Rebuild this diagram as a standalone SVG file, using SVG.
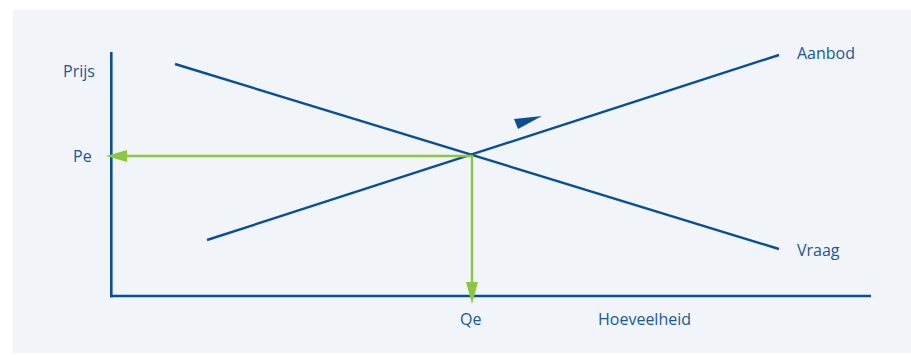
<svg xmlns="http://www.w3.org/2000/svg" width="911" height="355" viewBox="0 0 911 355">
  <defs>
    <style>
      .axis { stroke: #0a4f94; stroke-width: 2.6; fill: none; }
      .curve { stroke: #0a4f94; stroke-width: 2.4; fill: none; stroke-linecap: butt; }
      .guide { stroke: #8dc63f; stroke-width: 2.4; fill: none; }
      .head { fill: #8dc63f; }
      .lbl { font-family: "Open Sans", "Liberation Sans", sans-serif; font-size: 16px; fill: #1b5697; }
    </style>
  </defs>
  <rect width="911" height="355" fill="#ffffff"/>
  <rect x="13" y="10" width="898" height="343" fill="#f1f5f9"/>

  <!-- axes -->
  <g id="axes">
    <line class="axis" x1="111.3" y1="52" x2="111.3" y2="297.3"/>
    <line class="axis" x1="110" y1="296" x2="871" y2="296"/>
  </g>

  <!-- supply and demand curves -->
  <g id="connectors">
    <line class="curve" x1="175" y1="64" x2="779" y2="249"/>
    <line class="curve" x1="207" y1="240" x2="779" y2="55"/>
    <polygon fill="#0a4f94" points="514,119 542,116 518,129"/>
    <!-- equilibrium guides -->
    <polyline class="guide" points="124,156 472,156 472,284"/>
    <polygon class="head" points="106,156 127,150 127,162"/>
    <polygon class="head" points="472,304 466,282 478,282"/>
  </g>

  <g id="label-prijs"><text class="lbl" x="63" y="77">Prijs</text></g>
  <g id="label-pe"><text class="lbl" x="73" y="162">Pe</text></g>
  <g id="label-qe"><text class="lbl" x="460" y="325">Qe</text></g>
  <g id="label-hoeveelheid"><text class="lbl" x="598" y="325">Hoeveelheid</text></g>
  <g id="label-aanbod"><text class="lbl" x="797" y="59">Aanbod</text></g>
  <g id="label-vraag"><text class="lbl" x="797" y="256">Vraag</text></g>
</svg>
